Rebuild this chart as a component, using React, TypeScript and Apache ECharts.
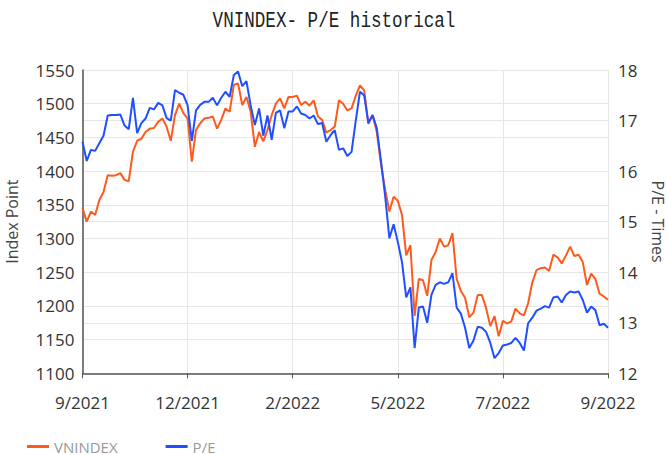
import React, { useEffect, useRef } from "react";
import * as echarts from "echarts";

const tickLabels = ["9/2021", "12/2021", "2/2022", "5/2022", "7/2022", "9/2022"];
const labelStep = 25;

const vnindex = [
  1345, 1325, 1340, 1335, 1357, 1369, 1394, 1393, 1394, 1397,
  1387, 1385, 1429, 1445, 1448, 1458, 1463, 1464, 1473, 1478,
  1466, 1445, 1483, 1500, 1486, 1478, 1414, 1461, 1471, 1478,
  1479, 1481, 1463, 1476, 1493, 1488, 1528, 1530, 1498, 1510,
  1488, 1436, 1458, 1444, 1461, 1483, 1500, 1508, 1493, 1510,
  1510, 1512, 1498, 1503, 1497, 1505, 1481, 1476, 1457, 1461,
  1466, 1505, 1500, 1490, 1493, 1512, 1527, 1520, 1470, 1483,
  1458, 1410, 1372, 1340, 1362, 1356, 1335, 1275, 1290, 1185,
  1240, 1238, 1215, 1268, 1280, 1300, 1288, 1290, 1308, 1240,
  1222, 1212, 1183, 1190, 1216, 1216, 1197, 1170, 1185, 1155,
  1178, 1174, 1177, 1196, 1189, 1186, 1204, 1235, 1253, 1256,
  1257, 1252, 1276, 1272, 1263, 1275, 1288, 1274, 1276, 1265,
  1231, 1248, 1240, 1218, 1214, 1209,
];

const pe = [
  16.58, 16.2, 16.42, 16.4, 16.55, 16.7, 17.1, 17.11, 17.11, 17.12,
  16.9, 16.83, 17.45, 16.75, 16.95, 17.04, 17.25, 17.22, 17.35, 17.3,
  17.05, 17.0, 17.6, 17.55, 17.51, 17.3, 16.6, 17.2, 17.31, 17.37,
  17.37, 17.45, 17.3, 17.45, 17.57, 17.47, 17.9, 17.97, 17.68, 17.78,
  17.3, 16.91, 17.24, 16.7, 17.1, 16.62, 17.15, 17.2, 16.85, 17.18,
  17.18, 17.28, 17.14, 17.11, 17.04, 17.1, 16.93, 16.95, 16.58, 16.71,
  16.81, 16.42, 16.45, 16.3, 16.38, 17.0, 17.57, 17.5, 16.95, 17.11,
  16.85, 16.2, 15.5, 14.67, 14.95, 14.6, 14.2, 13.5, 13.7, 12.5,
  13.3, 13.32, 13.0, 13.55, 13.75, 13.8, 13.77, 13.8, 13.98, 13.3,
  13.18, 12.9, 12.5, 12.65, 12.92, 12.9, 12.82, 12.6, 12.3, 12.4,
  12.55, 12.57, 12.6, 12.7, 12.6, 12.45, 12.99, 13.1, 13.24, 13.28,
  13.33, 13.3, 13.5, 13.52, 13.4, 13.55, 13.62, 13.6, 13.62, 13.45,
  13.2, 13.32, 13.25, 12.95, 12.98, 12.9,
];

const categories = vnindex.map((_, i) =>
  i % labelStep === 0 ? tickLabels[i / labelStep] : ""
);

const ORANGE = "#FF5A1E";
const BLUE = "#1F4FFF";
const AXIS_FONT = "'Open Sans', sans-serif";

export default function App() {
  const ref = useRef<HTMLDivElement>(null);
  useEffect(() => {
    if (!ref.current) return;
    const chart = echarts.init(ref.current, null, { renderer: "svg" });
    chart.setOption({
      animation: false,
      backgroundColor: "#ffffff",
      graphic: [
        {
          type: "text",
          x: 334,
          y: 20.5,
          scaleY: 1.3,
          style: {
            text: "VNINDEX- P/E historical",
            font: "17.6px 'Liberation Mono', monospace",
            fill: "#222",
            align: "center",
            verticalAlign: "middle",
          },
        },
      ],
      legend: {
        left: 22,
        top: 434,
        itemWidth: 22,
        itemHeight: 3,
        itemGap: 48,
        icon: "rect",
        textStyle: { color: "#999", fontSize: 15, fontFamily: AXIS_FONT },
        data: ["VNINDEX", "P/E"],
      },
      grid: {
        left: 82.5,
        right: 59,
        top: 70,
        bottom: 81.7,
        containLabel: false,
        outerBoundsMode: "none",
      },
      xAxis: {
        type: "category",
        data: categories,
        boundaryGap: false,
        axisLine: { lineStyle: { color: "#555", width: 1.5 } },
        axisTick: { interval: labelStep - 1, length: 5, lineStyle: { color: "#555" } },
        axisLabel: {
          interval: labelStep - 1,
          margin: 21,
          color: "#333",
          fontSize: 17,
          fontFamily: AXIS_FONT,
          showMinLabel: true,
          showMaxLabel: true,
        },
        splitLine: { show: true, interval: labelStep - 1, lineStyle: { color: "#e6e6e6" } },
      },
      yAxis: [
        {
          type: "value",
          min: 1100,
          max: 1550,
          interval: 50,
          name: "Index Point",
          nameLocation: "middle",
          nameGap: 63,
          nameTextStyle: { color: "#444", fontSize: 16, fontFamily: AXIS_FONT },
          axisLine: { show: true, lineStyle: { color: "#555", width: 1.5 } },
          axisTick: { show: false },
          axisLabel: {
            color: "#333",
            fontSize: 17,
            fontFamily: AXIS_FONT,
            margin: 8,
            formatter: (v: number) => String(v),
          },
          splitLine: { show: true, lineStyle: { color: "#e6e6e6" } },
        },
        {
          type: "value",
          min: 12,
          max: 18,
          interval: 1,
          position: "right",
          name: "P/E - Times",
          nameLocation: "middle",
          nameRotate: -90,
          nameGap: 42,
          nameTextStyle: { color: "#444", fontSize: 16, fontFamily: AXIS_FONT },
          axisLine: { show: false },
          axisTick: { show: false },
          axisLabel: {
            color: "#333",
            fontSize: 17,
            fontFamily: AXIS_FONT,
            margin: 10,
            formatter: (v: number) => String(v),
          },
          splitLine: { show: true, lineStyle: { color: "#e6e6e6" } },
        },
      ],
      series: [
        {
          name: "VNINDEX",
          type: "line",
          yAxisIndex: 0,
          data: vnindex,
          showSymbol: false,
          symbol: "none",
          lineStyle: { color: ORANGE, width: 2 },
          itemStyle: { color: ORANGE },
        },
        {
          name: "P/E",
          type: "line",
          yAxisIndex: 1,
          data: pe,
          showSymbol: false,
          symbol: "none",
          lineStyle: { color: BLUE, width: 2 },
          itemStyle: { color: BLUE },
        },
      ],
    });
    return () => chart.dispose();
  }, []);
  return <div ref={ref} style={{ width: 667, height: 455, position: "absolute", left: 0, top: 0 }} />;
}
